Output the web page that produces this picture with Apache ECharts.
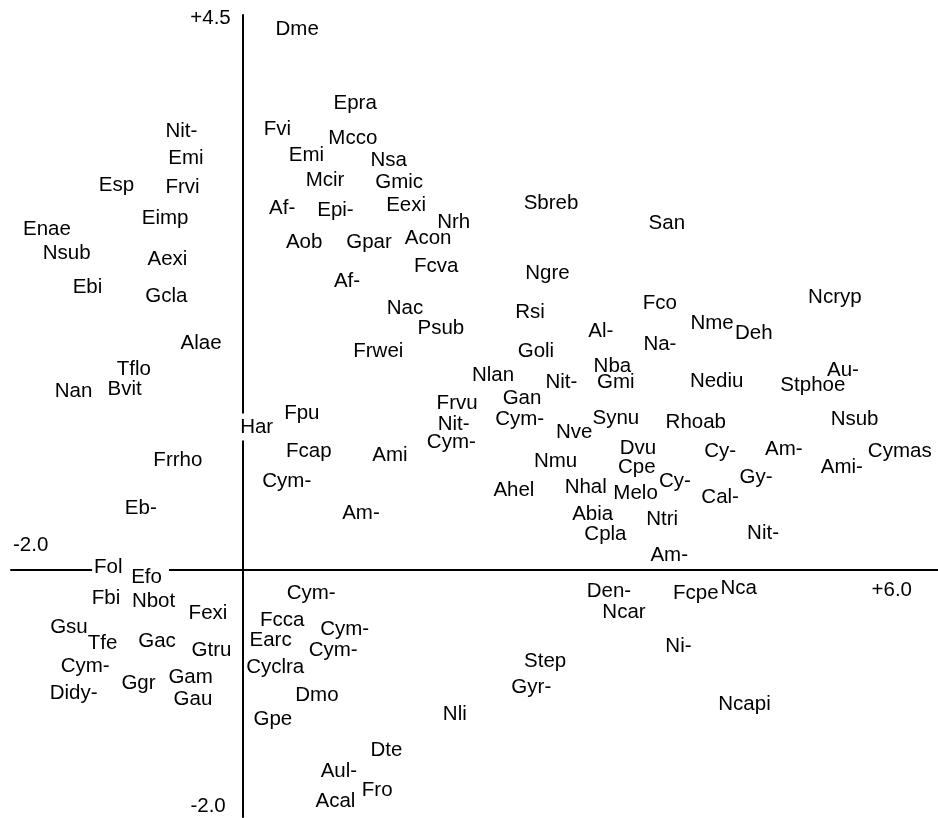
<!DOCTYPE html>
<html>
<head>
<meta charset="utf-8">
<script src="https://cdn.jsdelivr.net/npm/echarts@6/dist/echarts.min.js"></script>
<style>
  html, body { margin: 0; padding: 0; background: #fff; }
  #chart { width: 938px; height: 818px; }
</style>
</head>
<body>
<div id="chart"></div>
<script>
// Species codes and their ordination scores (axis 1, axis 2)
var species = [
  'Dme','Epra','Nit-','Fvi','Mcco','Emi','Emi','Nsa','Esp','Frvi',
  'Mcir','Gmic','Af-','Epi-','Eexi','Eimp','Enae','Sbreb','Nrh','San',
  'Aob','Gpar','Acon','Nsub','Aexi','Fcva','Ngre','Af-','Ebi','Gcla',
  'Ncryp','Fco','Nac','Rsi','Nme','Deh','Psub','Al-','Alae','Na-',
  'Frwei','Goli','Tflo','Nba','Au-','Nlan','Nediu','Nit-','Gmi','Stphoe',
  'Nan','Bvit','Gan','Frvu','Fpu','Cym-','Har','Synu','Nsub','Rhoab',
  'Nit-','Nve','Cym-','Frrho','Fcap','Ami','Dvu','Cy-','Am-','Cymas',
  'Nmu','Cpe','Cym-','Ami-','Gy-','Cy-','Ahel','Nhal','Melo','Cal-',
  'Am-','Eb-','Abia','Ntri','Nit-','Cpla','Am-',
  'Fol','Efo','Fbi','Nbot','Fexi','Cym-','Den-','Fcpe','Nca',
  'Gsu','Tfe','Gac','Gtru','Fcca','Earc','Cym-','Cym-','Ncar','Ni-',
  'Cym-','Cyclra','Gam','Ggr','Step','Gyr-','Didy-','Gau','Dmo','Nli',
  'Gpe','Ncapi','Dte','Aul-','Fro','Acal'
];
var axis1 = [
  0.47, 0.97, -0.53, 0.30, 0.95, -0.49, 0.55, 1.26, -1.09, -0.52,
  0.71, 1.35, 0.34, 0.80, 1.41, -0.67, -1.69, 2.66, 1.82, 3.66,
  0.53, 1.09, 1.60, -1.52, -0.65, 1.67, 2.63, 0.90, -1.34, -0.66,
  5.11, 3.60, 1.40, 2.48, 4.05, 4.41, 1.71, 3.09, -0.36, 3.60,
  1.17, 2.53, -0.94, 3.19, 5.18, 2.16, 4.09, 2.75, 3.22, 4.92,
  -1.46, -1.02, 2.41, 1.85, 0.51, 2.39, 0.12, 3.22, 5.28, 3.91,
  1.82, 2.86, 1.80, -0.56, 0.57, 1.27, 3.41, 4.12, 4.67, 5.67,
  2.70, 3.40, 0.38, 5.17, 4.43, 3.73, 2.34, 2.96, 3.39, 4.12,
  1.02, -0.88, 3.02, 3.62, 4.49, 3.13, 3.68,
  -1.16, -0.83, -1.18, -0.77, -0.30, 0.59, 3.16, 3.91, 4.28,
  -1.50, -1.21, -0.74, -0.27, 0.34, 0.24, 0.88, 0.78, 3.29, 3.76,
  -1.36, 0.28, -0.45, -0.90, 2.61, 2.49, -1.46, -0.43, 0.64, 1.83,
  0.26, 4.33, 1.24, 0.83, 1.16, 0.80
];
var axis2 = [
  4.38, 3.78, 3.56, 3.57, 3.50, 3.34, 3.36, 3.32, 3.12, 3.10,
  3.16, 3.14, 2.93, 2.92, 2.96, 2.85, 2.76, 2.97, 2.82, 2.81,
  2.66, 2.66, 2.69, 2.57, 2.52, 2.46, 2.41, 2.34, 2.29, 2.22,
  2.21, 2.16, 2.12, 2.09, 2.00, 1.92, 1.96, 1.94, 1.84, 1.83,
  1.77, 1.77, 1.63, 1.65, 1.62, 1.58, 1.53, 1.52, 1.52, 1.50,
  1.45, 1.47, 1.39, 1.35, 1.27, 1.22, 1.16, 1.23, 1.22, 1.20,
  1.18, 1.12, 1.04, 0.89, 0.96, 0.93, 0.99, 0.96, 0.98, 0.96,
  0.88, 0.83, 0.72, 0.83, 0.75, 0.72, 0.65, 0.67, 0.62, 0.59,
  0.46, 0.50, 0.45, 0.41, 0.30, 0.29, 0.12,
  0.02, -0.06, -0.23, -0.25, -0.35, -0.19, -0.17, -0.19, -0.15,
  -0.46, -0.59, -0.58, -0.65, -0.41, -0.57, -0.48, -0.65, -0.34, -0.62,
  -0.78, -0.79, -0.87, -0.92, -0.74, -0.95, -1.00, -1.05, -1.01, -1.17,
  -1.21, -1.09, -1.46, -1.63, -1.78, -1.87
];
// Axis end labels
var xTickLabels = ['-2.0', '+6.0'];
var yTickLabels = ['-2.0', '+4.5'];

var xMin = parseFloat(xTickLabels[0]), xMax = parseFloat(xTickLabels[1]);
var yMin = parseFloat(yTickLabels[0]), yMax = parseFloat(yTickLabels[1]);

var points = species.map(function (s, i) { return [axis1[i], axis2[i], s]; });

var FONT = '"Liberation Sans", Arial, sans-serif';
var FS = 20.5;
// white box margins around each code: top, right, bottom, left
var PAD = [3, 7, 3, 2];

// Two passes over the same points: white boxes first (they break the axis
// lines), then the black codes on top so no box hides a neighbour's text.
function labelItem(withText) {
  return function (params, api) {
    var p = api.coord([api.value(0), api.value(1)]);
    var style = {
      text: species[params.dataIndex],
      font: FS + 'px ' + FONT,
      align: 'center', verticalAlign: 'middle'
    };
    var x = p[0];
    if (withText) {
      style.fill = '#000';
    } else {
      style.fill = '#fff';
      style.backgroundColor = '#fff';
      style.padding = PAD;
      // centred boxes grow evenly, so shift to keep the uneven margins
      x += (PAD[1] - PAD[3]) / 2;
    }
    return { type: 'text', x: x, y: p[1], style: style };
  };
}

// End-of-axis value labels, each placed next to the axis end it names
var endLabels = [
  { t: xTickLabels[0], v: [xMin, 0], dx: 2, dy: -25, align: 'left' },
  { t: xTickLabels[1], v: [xMax, 0], dx: -26, dy: 20, align: 'right' },
  { t: yTickLabels[1], v: [0, yMax], dx: -12, dy: 3, align: 'right' },
  { t: yTickLabels[0], v: [0, yMin], dx: -17, dy: -11, align: 'right' }
];

var chart = echarts.init(document.getElementById('chart'), null, { renderer: 'canvas' });
chart.setOption({
  animation: false,
  backgroundColor: '#fff',
  grid: { left: 11, right: 0, top: 15, bottom: 1, containLabel: false },
  xAxis: {
    type: 'value', min: xMin, max: xMax,
    axisLine: { onZero: true, lineStyle: { color: '#000', width: 2 } },
    axisTick: { show: false }, axisLabel: { show: false }, splitLine: { show: false }
  },
  yAxis: {
    type: 'value', min: yMin, max: yMax,
    axisLine: { onZero: true, lineStyle: { color: '#000', width: 2 } },
    axisTick: { show: false }, axisLabel: { show: false }, splitLine: { show: false }
  },
  series: [
    { type: 'custom', data: points, renderItem: labelItem(false), z: 3, silent: true },
    { type: 'custom', data: points, renderItem: labelItem(true), z: 4, silent: true },
    {
      type: 'custom', z: 5, silent: true,
      data: endLabels.map(function (e) { return e.v; }),
      renderItem: function (params, api) {
        var e = endLabels[params.dataIndex];
        var p = api.coord([api.value(0), api.value(1)]);
        return {
          type: 'text', x: p[0] + e.dx, y: p[1] + e.dy,
          style: { text: e.t, font: FS + 'px ' + FONT, fill: '#000', align: e.align, verticalAlign: 'middle' }
        };
      }
    }
  ]
});
</script>
</body>
</html>
